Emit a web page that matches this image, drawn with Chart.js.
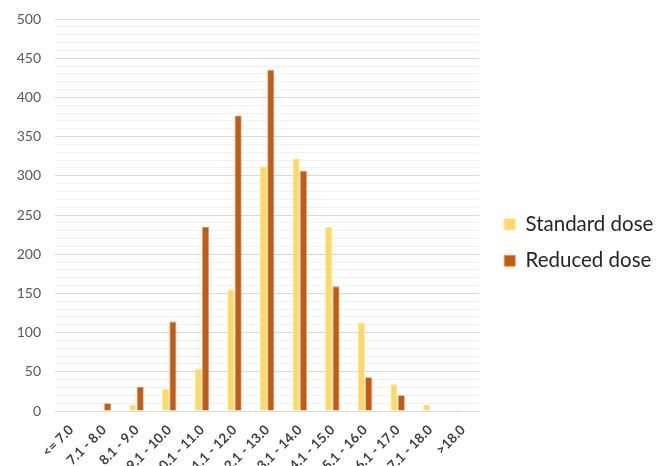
<!DOCTYPE html>
<html>
<head>
<meta charset="utf-8">
<script src="https://cdn.jsdelivr.net/npm/chart.js@4"></script>
<style>
  html, body { margin: 0; padding: 0; background: #fff; overflow: hidden; }
  #wrap { width: 665px; height: 466px; }
</style>
</head>
<body>
<div id="wrap"><canvas id="chart" width="665" height="466"></canvas></div>
<script>
// categories (dose ranges)
const categories = ['<= 7.0', '7.1 - 8.0', '8.1 - 9.0', '9.1 - 10.0', '10.1 - 11.0', '11.1 - 12.0',
    '12.1 - 13.0', '13.1 - 14.0', '14.1 - 15.0', '15.1 - 16.0', '16.1 - 17.0', '17.1 - 18.0', '>18.0'];

// series values
const standardDose = [0, 0, 8, 28, 54, 155, 312, 322, 235, 113, 34, 8, 2];
const reducedDose = [0, 10, 31, 114, 235, 377, 435, 306, 159, 43, 20, 0, 0];

const yMax = 500;
const yMajorStep = 50;
const yMinorStep = 10;

const fontFamily = "Lato, 'Open Sans', sans-serif";

// extra room between plot and legend
const legendGap = 9;
const legendGapPlugin = {
    id: 'legendGap',
    beforeLayout: function(chart) {
        const legend = chart.legend;
        if (legend && !legend._gapPatched) {
            const origFit = legend.fit.bind(legend);
            legend.fit = function() {
                origFit();
                this.width += legendGap;
            };
            legend._gapPatched = true;
        }
    },
    afterLayout: function(chart) {
        if (chart.legend) {
            chart.legend.left += legendGap;
            chart.legend.right += legendGap;
        }
    }
};

const ctx = document.getElementById('chart').getContext('2d');

const myChart = new Chart(ctx, {
    type: 'bar',
    data: {
        labels: categories,
        datasets: [{
            label: 'Standard dose',
            data: standardDose,
            backgroundColor: '#FFD966',
            borderColor: '#FFE699',
            borderWidth: 0.8,
            categoryPercentage: 0.45,
            barPercentage: 0.95
        }, {
            label: 'Reduced dose',
            data: reducedDose,
            backgroundColor: '#C55A11',
            borderColor: '#E0996B',
            borderWidth: 0.8,
            categoryPercentage: 0.45,
            barPercentage: 0.95
        }]
    },
    options: {
        responsive: false,
        animation: false,
        layout: {
            padding: { top: 19, right: 14, left: 0, bottom: 0 }
        },
        plugins: {
            tooltip: { enabled: false },
            legend: {
                position: 'right',
                align: 'center',
                labels: {
                    boxWidth: 11,
                    boxHeight: 11,
                    padding: 16,
                    color: '#262626',
                    font: { family: fontFamily, size: 20.5 }
                }
            }
        },
        scales: {
            x: {
                grid: { display: false },
                border: { display: true, color: '#d9d9d9', width: 1 },
                ticks: {
                    autoSkip: false,
                    maxRotation: 45,
                    minRotation: 45,
                    color: '#404040',
                    font: { family: fontFamily, size: 13.5, weight: 'bold' }
                },
                afterFit: function(scale) {
                    scale.height = 55;
                }
            },
            y: {
                min: 0,
                max: yMax,
                border: { display: false },
                grid: {
                    drawTicks: false,
                    color: function(c) {
                        if (c.tick.value === 0) return 'rgba(0,0,0,0)';
                        return c.tick.value % yMajorStep === 0 ? '#d9d9d9' : '#f2f2f2';
                    },
                    lineWidth: 1
                },
                ticks: {
                    stepSize: yMinorStep,
                    autoSkip: false,
                    padding: 14,
                    color: '#595959',
                    font: { family: fontFamily, size: 14 },
                    callback: function(value) {
                        return value % yMajorStep === 0 ? value : '';
                    }
                },
                afterFit: function(scale) {
                    scale.width = 55;
                    // top edge comes from layout padding only
                    scale.paddingTop = 0;
                }
            }
        }
    },
    plugins: [legendGapPlugin]
});
</script>
</body>
</html>
